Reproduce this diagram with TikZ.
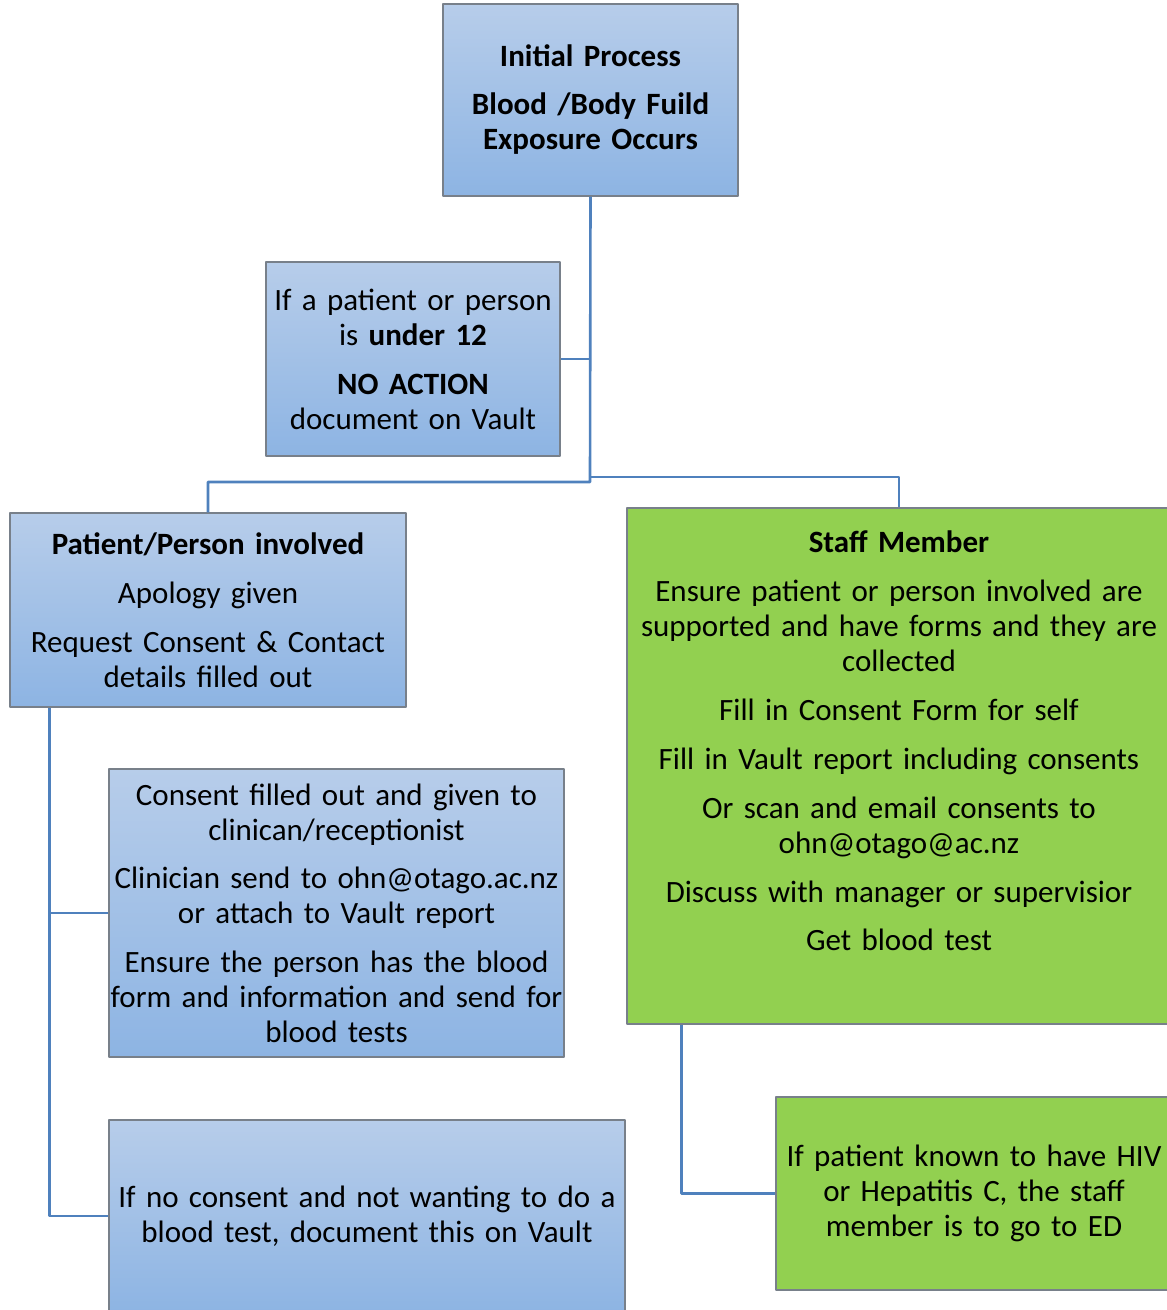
\documentclass[tikz,border=0pt]{standalone}
\usepackage{fontspec}
\setmainfont{Carlito}

\definecolor{linkblue}{RGB}{79,129,189}
\definecolor{boxtop}{RGB}{183,205,234}
\definecolor{boxbottom}{RGB}{141,180,227}
\definecolor{boxgreen}{RGB}{146,208,80}
\definecolor{boxedge}{RGB}{120,128,138}

\begin{document}
\begin{tikzpicture}[
    x=1pt,
    y=-1pt,
    line cap=round,
    line join=round,
    bluebox/.style={
        draw=boxedge,
        line width=1.1pt,
        top color=boxtop,
        bottom color=boxbottom,
        inner sep=0pt,
        align=center
    },
    greenbox/.style={
        draw=boxedge,
        line width=1.1pt,
        fill=boxgreen,
        inner sep=0pt,
        align=center
    },
    link/.style={
        draw=linkblue,
        line width=2.6pt,
        line cap=butt
    },
    every node/.style={
        font=\fontsize{31}{35}\selectfont
    }
]

\useasboundingbox (0,0) rectangle (1167,1310);

% =================================================
% Boxes
% =================================================

\node[bluebox, minimum width=295pt, minimum height=192pt, text width=290pt]
    (init) at (590.5,100)
    {\textbf{Initial Process}\\[13pt]
     \textbf{Blood /Body Fuild}\\
     \textbf{Exposure Occurs}};

\node[bluebox, minimum width=294pt, minimum height=194pt, text width=292pt]
    (under12) at (413,359)
    {If a patient or person\\
     is \textbf{under 12}\\[14pt]
     \textbf{NO ACTION}\\
     document on Vault};

\node[bluebox, minimum width=396pt, minimum height=194pt, text width=390pt]
    (patient) at (208,610)
    {\textbf{Patient/Person involved}\\[14pt]
     Apology given\\[14pt]
     Request Consent \& Contact\\
     details filled out};

\node[greenbox, minimum width=544pt, minimum height=516pt]
    (staff) at (899,766) {};
\node[align=center, inner sep=0pt, text width=540pt]
    (stafftext) at (899,741)
    {\textbf{Staff Member}\\[14pt]
     Ensure patient or person involved are\\
     supported and have forms and they are\\
     collected\\[14pt]
     Fill in Consent Form for self\\[14pt]
     Fill in Vault report including consents\\[14pt]
     Or scan and email consents to\\
     ohn@otago@ac.nz\\[14pt]
     Discuss with manager or supervisior\\[13pt]
     Get blood test};

\node[bluebox, minimum width=455pt, minimum height=288pt, text width=455pt]
    (consent) at (336.5,913)
    {Consent filled out and given to\\
     clinican/receptionist\\[13pt]
     Clinician send to ohn@otago.ac.nz\\
     or attach to Vault report\\[14pt]
     Ensure the person has the blood\\
     form and information and send for\\
     blood tests};

\node[bluebox, minimum width=516pt, minimum height=192pt, text width=512pt]
    (noconsent) at (367,1216)
    {If no consent and not wanting to do a\\
     blood test, document this on Vault};

\node[greenbox, minimum width=396pt, minimum height=193pt, text width=392pt]
    (hiv) at (974,1193.5)
    {If patient known to have HIV\\
     or Hepatitis C, the staff\\
     member is to go to ED};

% =================================================
% Connectors
% =================================================

\coordinate (splitL) at (590,482);
\coordinate (splitR) at (590,477);

\draw[link] (init.south) -- (splitL) -| (patient.north);
\draw[link] (splitR) -| (staff.north);
\draw[link] (under12.east) -- (under12.east -| init.south);

% Patient/Person branch
\coordinate (pspine) at ([xshift=40pt]patient.south west);
\draw[link] (pspine) |- (noconsent.west);
\draw[link] (pspine |- consent.west) -- (consent.west);

% Staff branch
\coordinate (sspine) at ([xshift=55pt]staff.south west);
\draw[link] (sspine) |- (hiv.west);

\end{tikzpicture}
\end{document}
